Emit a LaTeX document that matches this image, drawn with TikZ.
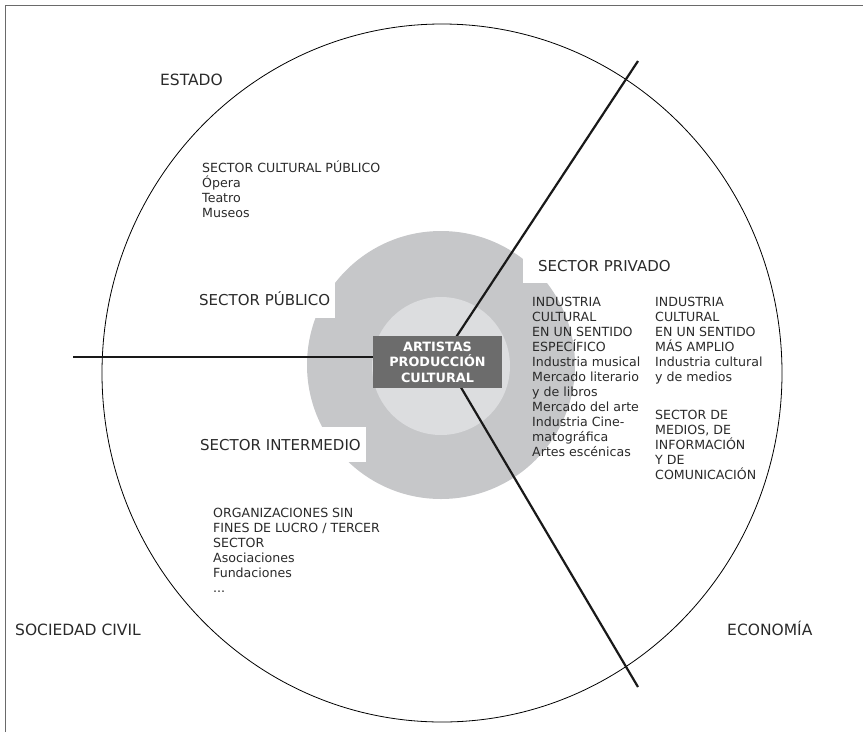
\documentclass[tikz,border=0pt]{standalone}
\usepackage{fontspec}
\setmainfont{DejaVu Sans}

\definecolor{ringgray}{HTML}{C6C7C9}
\definecolor{coregray}{HTML}{DCDDDF}
\definecolor{boxgray}{HTML}{6C6C6C}
\definecolor{inkgray}{HTML}{2A2A2A}
\definecolor{framegray}{HTML}{6A6A6A}

\tikzset{
  sector/.style={fill=white, text=inkgray, anchor=west, inner xsep=5pt,
    text height=11pt, text depth=0pt, minimum height=35pt,
    font=\fontsize{15}{18}\selectfont},
  realm/.style={text=inkgray, anchor=west, inner sep=0pt,
    text height=11pt, text depth=0pt, font=\fontsize{15.5}{18}\selectfont},
  % anchored at the baseline of the last line
  items/.style={text=inkgray, anchor=base west, inner sep=0pt, align=left,
    font=\fontsize{12.6}{15}\selectfont},
  divider/.style={line width=2.2pt, black!90},
  core/.style={fill=boxgray, text=white, align=center, inner sep=0pt,
    minimum width=129pt, minimum height=52pt,
    font=\bfseries\fontsize{12.8}{15.5}\selectfont},
}

\begin{document}
\begin{tikzpicture}[x=1pt, y=-1pt]
  \useasboundingbox (0,0) rectangle (863,732);

  % frame (top and left edge)
  \draw[framegray, line width=1pt] (5,732) -- (5,5) -- (863,5);

  % society circle and the two grey discs
  \draw[line width=0.8pt] (442,373) ellipse [x radius=340, y radius=349];
  \fill[ringgray] (441,365) circle [radius=134];
  \fill[coregray] (441,366) circle [radius=69];

  % sector labels
  \node[sector] (publico) at (194,300) {SECTOR PÚBLICO};
  \node[sector] (intermedio) at (195,444.5) {SECTOR INTERMEDIO};
  \node[sector, inner xsep=15pt] (privado) at (523,265.5) {SECTOR PRIVADO};

  % the three realms
  \node[realm] (estado) at (160,80) {ESTADO};
  \node[realm] (sociedad) at (15,630) {SOCIEDAD CIVIL};
  \node[realm] (economia) at (727,630) {ECONOMÍA};

  % contents of each sector
  \node[items] (publist) at (202,217.5) {SECTOR CULTURAL PÚBLICO\\Ópera\\Teatro\\Museos};
  \node[items] (civlist) at (213,592.5) {ORGANIZACIONES SIN\\FINES DE LUCRO / TERCER\\SECTOR\\Asociaciones\\Fundaciones\\...};
  \node[items] (narrow) at (532,456.5) {INDUSTRIA\\CULTURAL\\EN UN SENTIDO\\ESPECÍFICO\\Industria musical\\Mercado literario\\y de libros\\Mercado del arte\\Industria Cine-\\matográfica\\Artes escénicas};
  \node[items] (wide) at (655,381.5) {INDUSTRIA\\CULTURAL\\EN UN SENTIDO\\MÁS AMPLIO\\Industria cultural\\y de medios};
  \node[items] (media) at (655,479.5) {SECTOR DE\\MEDIOS, DE\\INFORMACIÓN\\Y DE\\COMUNICACIÓN};

  % dividing lines
  \coordinate (hub) at (443,357);
  \coordinate (westend) at (73,357);
  \coordinate (northend) at (638,61);
  \coordinate (southend) at (638,687);
  \draw[divider] (hub) -- (westend);
  \draw[divider] (hub) -- (northend);
  \draw[divider] (hub) -- (southend);

  \node[core] (artistas) at (437.5,362) {ARTISTAS\\PRODUCCIÓN\\CULTURAL};
\end{tikzpicture}
\end{document}
